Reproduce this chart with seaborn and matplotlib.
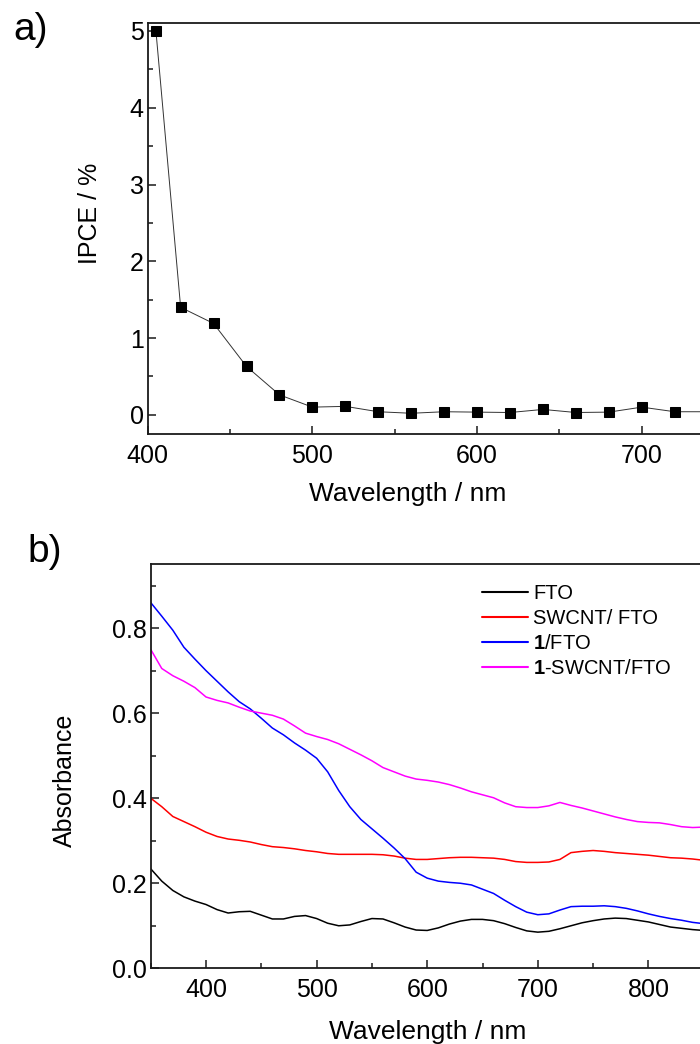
import matplotlib
matplotlib.use("Agg")
import matplotlib.pyplot as plt
from matplotlib.ticker import MultipleLocator
import seaborn as sns
import pandas as pd

# IPCE action spectrum (panel a)
ipce_wl = [405, 420, 440, 460, 480, 500, 520, 540, 560, 580, 600,
           620, 640, 660, 680, 700, 720, 740]
ipce_val = [5.0, 1.40, 1.19, 0.63, 0.26, 0.10, 0.11, 0.04, 0.02, 0.04, 0.035,
            0.03, 0.07, 0.03, 0.035, 0.10, 0.04, 0.04]

# absorbance spectra (panel b)
abs_wl = [350, 360, 370, 380, 390, 400, 410, 420, 430, 440, 450, 460, 470,
          480, 490, 500, 510, 520, 530, 540, 550, 560, 570, 580, 590, 600,
          610, 620, 630, 640, 650, 660, 670, 680, 690, 700, 710, 720, 730,
          740, 750, 760, 770, 780, 790, 800, 810, 820, 830, 840, 850]
abs_fto = [0.234, 0.205, 0.183, 0.168, 0.158, 0.150, 0.138, 0.130, 0.133,
           0.134, 0.125, 0.116, 0.116, 0.122, 0.124, 0.117, 0.106, 0.100,
           0.102, 0.110, 0.117, 0.116, 0.107, 0.097, 0.090, 0.089, 0.095,
           0.104, 0.111, 0.115, 0.115, 0.112, 0.105, 0.096, 0.088, 0.085,
           0.087, 0.093, 0.100, 0.107, 0.112, 0.116, 0.118, 0.117, 0.113,
           0.109, 0.103, 0.097, 0.094, 0.091, 0.089]
abs_swcnt = [0.400, 0.380, 0.357, 0.345, 0.333, 0.320, 0.310, 0.304, 0.301,
             0.297, 0.291, 0.286, 0.284, 0.281, 0.277, 0.274, 0.270, 0.268,
             0.268, 0.268, 0.268, 0.267, 0.264, 0.259, 0.256, 0.256, 0.258,
             0.260, 0.261, 0.261, 0.260, 0.259, 0.256, 0.251, 0.249, 0.249,
             0.250, 0.256, 0.272, 0.275, 0.277, 0.275, 0.272, 0.270, 0.268,
             0.266, 0.263, 0.260, 0.259, 0.257, 0.254]
abs_1 = [0.860, 0.828, 0.795, 0.755, 0.727, 0.700, 0.675, 0.650, 0.627,
         0.610, 0.588, 0.565, 0.549, 0.530, 0.513, 0.494, 0.462, 0.418,
         0.380, 0.350, 0.328, 0.306, 0.283, 0.258, 0.226, 0.212, 0.205,
         0.202, 0.200, 0.196, 0.186, 0.176, 0.160, 0.145, 0.132, 0.126,
         0.128, 0.137, 0.145, 0.146, 0.146, 0.147, 0.145, 0.141, 0.135,
         0.128, 0.122, 0.117, 0.113, 0.108, 0.105]
abs_1_swcnt = [0.750, 0.705, 0.688, 0.675, 0.660, 0.638, 0.630, 0.624,
               0.614, 0.605, 0.600, 0.595, 0.586, 0.570, 0.553, 0.545, 0.538,
               0.528, 0.515, 0.502, 0.488, 0.472, 0.462, 0.452, 0.445, 0.442,
               0.438, 0.432, 0.424, 0.415, 0.408, 0.401, 0.389, 0.380, 0.378,
               0.378, 0.382, 0.390, 0.383, 0.377, 0.370, 0.363, 0.356, 0.350,
               0.345, 0.343, 0.342, 0.338, 0.333, 0.331, 0.332]

series_names = ["FTO", "SWCNT/ FTO", r"$\mathbf{1}$/FTO", r"$\mathbf{1}$-SWCNT/FTO"]
series_colors = ["#000000", "#ff0000", "#0000ff", "#ff00ff"]

sns.set_style("ticks")
plt.rcParams["font.family"] = ["Liberation Sans", "DejaVu Sans"]
plt.rcParams["mathtext.fontset"] = "custom"
plt.rcParams["mathtext.rm"] = "Liberation Sans"
plt.rcParams["mathtext.bf"] = "Liberation Sans:bold"
plt.rcParams["text.color"] = "black"
plt.rcParams["axes.labelcolor"] = "black"
plt.rcParams["xtick.color"] = "black"
plt.rcParams["ytick.color"] = "black"

fig = plt.figure(figsize=(7.0, 10.44), dpi=100)
W, H = 700.0, 1044.0

# axes placed in pixel terms; both run past the right edge like the cropped original
ax1 = fig.add_axes([147.7 / W, 1 - 434 / H, 592.9 / W, (434 - 23.3) / H])
ax2 = fig.add_axes([150.7 / W, 1 - 968.3 / H, 586.2 / W, (968.3 - 564.3) / H])


def style_axes(ax):
    for sp in ax.spines.values():
        sp.set_linewidth(1.3)
        sp.set_color("#1a1a1a")
    ax.tick_params(which="both", direction="in", top=False, right=False,
                   width=1.1, color="#1a1a1a", labelcolor="black", labelsize=18)
    ax.tick_params(which="major", length=6)
    ax.tick_params(which="minor", length=3.5)
    ax.tick_params(axis="y", pad=3)
    ax.tick_params(axis="x", pad=7)


# panel a
df_a = pd.DataFrame({"wl": ipce_wl, "ipce": ipce_val})
sns.lineplot(data=df_a, x="wl", y="ipce", ax=ax1, color="#333333",
             linewidth=0.7, marker="s", markersize=6.5,
             markerfacecolor="black", markeredgecolor="black")
ax1.set_xlim(400, 760)
ax1.set_ylim(-0.25, 5.1)
ax1.xaxis.set_major_locator(MultipleLocator(100))
ax1.xaxis.set_minor_locator(MultipleLocator(50))
ax1.yaxis.set_major_locator(MultipleLocator(1))
ax1.yaxis.set_minor_locator(MultipleLocator(0.5))
style_axes(ax1)
ax1.set_xlabel("Wavelength / nm", fontsize=19)
ax1.set_ylabel("IPCE / %", fontsize=18)
ax1.xaxis.set_label_coords(0.439, -0.117)
ax1.yaxis.set_label_coords(-0.077, 0.536)

# panel b
df_b = pd.DataFrame({"wl": abs_wl, series_names[0]: abs_fto,
                     series_names[1]: abs_swcnt, series_names[2]: abs_1,
                     series_names[3]: abs_1_swcnt})
df_b = df_b.melt(id_vars="wl", var_name="sample", value_name="absorbance")
sns.lineplot(data=df_b, x="wl", y="absorbance", hue="sample",
             hue_order=series_names, palette=dict(zip(series_names, series_colors)),
             linewidth=1.1, ax=ax2)
ax2.set_xlim(350, 880)
ax2.set_ylim(0, 0.95)
ax2.xaxis.set_major_locator(MultipleLocator(100))
ax2.xaxis.set_minor_locator(MultipleLocator(50))
ax2.yaxis.set_major_locator(MultipleLocator(0.2))
ax2.yaxis.set_minor_locator(MultipleLocator(0.1))
ax2.yaxis.set_major_formatter(plt.FormatStrFormatter("%.1f"))
style_axes(ax2)
ax2.set_xlabel("Wavelength / nm", fontsize=19)
ax2.set_ylabel("Absorbance", fontsize=18)
ax2.xaxis.set_label_coords(0.473, -0.128)
ax2.yaxis.set_label_coords(-0.126, 0.466)

handles, labels = ax2.get_legend_handles_labels()
for h in handles:
    h.set_linewidth(1.5)
ax2.legend(handles, labels, loc="upper left", bbox_to_anchor=(0.565, 0.952),
           frameon=False, fontsize=14.5, borderaxespad=0, borderpad=0,
           handlelength=2.3, handletextpad=0.25, labelspacing=0.3)

fig.text(13 / W, 1 - 30 / H, "a)", fontsize=28, ha="left", va="center")
fig.text(27 / W, 1 - 552 / H, "b)", fontsize=28, ha="left", va="center")

fig.savefig("out.png", dpi=100)
